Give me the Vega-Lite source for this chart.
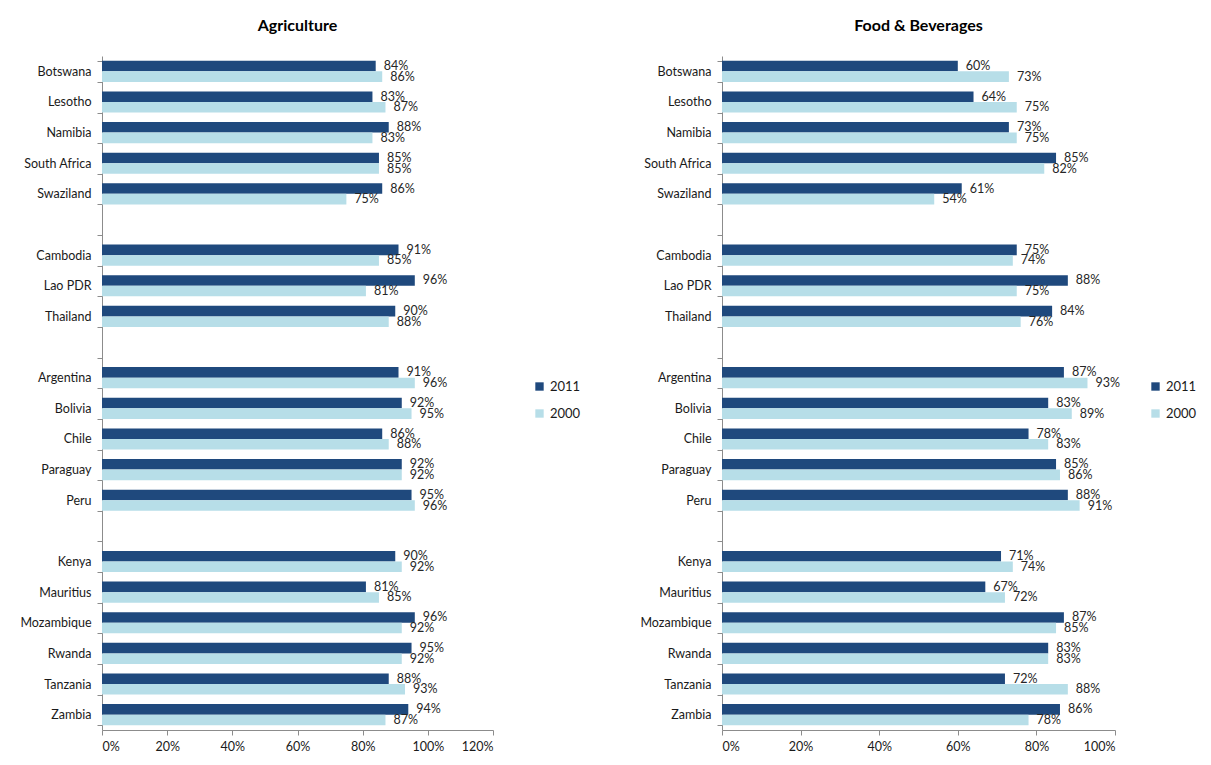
{
  "$schema": "https://vega.github.io/schema/vega-lite/v6.json",
  "background": "white",
  "padding": {"left": 19, "top": 18, "right": 5, "bottom": 5},
  "datasets": {
    "rows": [
      {"panel": "Agriculture", "country": "Botswana", "year": "2011", "value": 0.84},
      {"panel": "Agriculture", "country": "Botswana", "year": "2000", "value": 0.86},
      {"panel": "Agriculture", "country": "Lesotho", "year": "2011", "value": 0.83},
      {"panel": "Agriculture", "country": "Lesotho", "year": "2000", "value": 0.87},
      {"panel": "Agriculture", "country": "Namibia", "year": "2011", "value": 0.88},
      {"panel": "Agriculture", "country": "Namibia", "year": "2000", "value": 0.83},
      {"panel": "Agriculture", "country": "South Africa", "year": "2011", "value": 0.85},
      {"panel": "Agriculture", "country": "South Africa", "year": "2000", "value": 0.85},
      {"panel": "Agriculture", "country": "Swaziland", "year": "2011", "value": 0.86},
      {"panel": "Agriculture", "country": "Swaziland", "year": "2000", "value": 0.75},
      {"panel": "Agriculture", "country": "Cambodia", "year": "2011", "value": 0.91},
      {"panel": "Agriculture", "country": "Cambodia", "year": "2000", "value": 0.85},
      {"panel": "Agriculture", "country": "Lao PDR", "year": "2011", "value": 0.96},
      {"panel": "Agriculture", "country": "Lao PDR", "year": "2000", "value": 0.81},
      {"panel": "Agriculture", "country": "Thailand", "year": "2011", "value": 0.90},
      {"panel": "Agriculture", "country": "Thailand", "year": "2000", "value": 0.88},
      {"panel": "Agriculture", "country": "Argentina", "year": "2011", "value": 0.91},
      {"panel": "Agriculture", "country": "Argentina", "year": "2000", "value": 0.96},
      {"panel": "Agriculture", "country": "Bolivia", "year": "2011", "value": 0.92},
      {"panel": "Agriculture", "country": "Bolivia", "year": "2000", "value": 0.95},
      {"panel": "Agriculture", "country": "Chile", "year": "2011", "value": 0.86},
      {"panel": "Agriculture", "country": "Chile", "year": "2000", "value": 0.88},
      {"panel": "Agriculture", "country": "Paraguay", "year": "2011", "value": 0.92},
      {"panel": "Agriculture", "country": "Paraguay", "year": "2000", "value": 0.92},
      {"panel": "Agriculture", "country": "Peru", "year": "2011", "value": 0.95},
      {"panel": "Agriculture", "country": "Peru", "year": "2000", "value": 0.96},
      {"panel": "Agriculture", "country": "Kenya", "year": "2011", "value": 0.90},
      {"panel": "Agriculture", "country": "Kenya", "year": "2000", "value": 0.92},
      {"panel": "Agriculture", "country": "Mauritius", "year": "2011", "value": 0.81},
      {"panel": "Agriculture", "country": "Mauritius", "year": "2000", "value": 0.85},
      {"panel": "Agriculture", "country": "Mozambique", "year": "2011", "value": 0.96},
      {"panel": "Agriculture", "country": "Mozambique", "year": "2000", "value": 0.92},
      {"panel": "Agriculture", "country": "Rwanda", "year": "2011", "value": 0.95},
      {"panel": "Agriculture", "country": "Rwanda", "year": "2000", "value": 0.92},
      {"panel": "Agriculture", "country": "Tanzania", "year": "2011", "value": 0.88},
      {"panel": "Agriculture", "country": "Tanzania", "year": "2000", "value": 0.93},
      {"panel": "Agriculture", "country": "Zambia", "year": "2011", "value": 0.94},
      {"panel": "Agriculture", "country": "Zambia", "year": "2000", "value": 0.87},
      {"panel": "Food", "country": "Botswana", "year": "2011", "value": 0.60},
      {"panel": "Food", "country": "Botswana", "year": "2000", "value": 0.73},
      {"panel": "Food", "country": "Lesotho", "year": "2011", "value": 0.64},
      {"panel": "Food", "country": "Lesotho", "year": "2000", "value": 0.75},
      {"panel": "Food", "country": "Namibia", "year": "2011", "value": 0.73},
      {"panel": "Food", "country": "Namibia", "year": "2000", "value": 0.75},
      {"panel": "Food", "country": "South Africa", "year": "2011", "value": 0.85},
      {"panel": "Food", "country": "South Africa", "year": "2000", "value": 0.82},
      {"panel": "Food", "country": "Swaziland", "year": "2011", "value": 0.61},
      {"panel": "Food", "country": "Swaziland", "year": "2000", "value": 0.54},
      {"panel": "Food", "country": "Cambodia", "year": "2011", "value": 0.75},
      {"panel": "Food", "country": "Cambodia", "year": "2000", "value": 0.74},
      {"panel": "Food", "country": "Lao PDR", "year": "2011", "value": 0.88},
      {"panel": "Food", "country": "Lao PDR", "year": "2000", "value": 0.75},
      {"panel": "Food", "country": "Thailand", "year": "2011", "value": 0.84},
      {"panel": "Food", "country": "Thailand", "year": "2000", "value": 0.76},
      {"panel": "Food", "country": "Argentina", "year": "2011", "value": 0.87},
      {"panel": "Food", "country": "Argentina", "year": "2000", "value": 0.93},
      {"panel": "Food", "country": "Bolivia", "year": "2011", "value": 0.83},
      {"panel": "Food", "country": "Bolivia", "year": "2000", "value": 0.89},
      {"panel": "Food", "country": "Chile", "year": "2011", "value": 0.78},
      {"panel": "Food", "country": "Chile", "year": "2000", "value": 0.83},
      {"panel": "Food", "country": "Paraguay", "year": "2011", "value": 0.85},
      {"panel": "Food", "country": "Paraguay", "year": "2000", "value": 0.86},
      {"panel": "Food", "country": "Peru", "year": "2011", "value": 0.88},
      {"panel": "Food", "country": "Peru", "year": "2000", "value": 0.91},
      {"panel": "Food", "country": "Kenya", "year": "2011", "value": 0.71},
      {"panel": "Food", "country": "Kenya", "year": "2000", "value": 0.74},
      {"panel": "Food", "country": "Mauritius", "year": "2011", "value": 0.67},
      {"panel": "Food", "country": "Mauritius", "year": "2000", "value": 0.72},
      {"panel": "Food", "country": "Mozambique", "year": "2011", "value": 0.87},
      {"panel": "Food", "country": "Mozambique", "year": "2000", "value": 0.85},
      {"panel": "Food", "country": "Rwanda", "year": "2011", "value": 0.83},
      {"panel": "Food", "country": "Rwanda", "year": "2000", "value": 0.83},
      {"panel": "Food", "country": "Tanzania", "year": "2011", "value": 0.72},
      {"panel": "Food", "country": "Tanzania", "year": "2000", "value": 0.88},
      {"panel": "Food", "country": "Zambia", "year": "2011", "value": 0.86},
      {"panel": "Food", "country": "Zambia", "year": "2000", "value": 0.78}
    ]
  },
  "hconcat": [
    {
      "title": "Agriculture",
      "width": 391,
      "height": 674,
      "data": {"name": "rows"},
      "transform": [{"filter": "datum.panel === 'Agriculture'"}],
      "encoding": {
        "y": {
          "field": "country", "type": "nominal", "title": null,
          "scale": {
            "domain": ["Botswana", "Lesotho", "Namibia", "South Africa", "Swaziland", " ", "Cambodia", "Lao PDR", "Thailand", "  ", "Argentina", "Bolivia", "Chile", "Paraguay", "Peru", "   ", "Kenya", "Mauritius", "Mozambique", "Rwanda", "Tanzania", "Zambia"],
            "paddingInner": 0.31, "paddingOuter": 0.155
          }
        },
        "yOffset": {"field": "year", "type": "nominal", "sort": ["2011", "2000"], "scale": {"paddingInner": 0, "paddingOuter": 0}},
        "x": {
          "field": "value", "type": "quantitative", "title": null,
          "scale": {"domain": [0, 1.2], "nice": false},
          "axis": {"values": [0, 0.2, 0.4, 0.6, 0.8, 1.0, 1.2], "format": ".0%"}
        }
      },
      "layer": [
        {
          "mark": {"type": "bar"},
          "encoding": {
            "color": {
              "field": "year", "type": "nominal",
              "scale": {"domain": ["2011", "2000"], "range": ["#1F497D", "#B7DEE8"]},
              "legend": {"title": null, "orient": "none", "legendX": 431, "legendY": 324}
            }
          }
        },
        {
          "mark": {"type": "text", "align": "left", "baseline": "middle", "dx": 8, "font": "Lato", "fontSize": 12.5, "color": "#262626"},
          "encoding": {"text": {"field": "value", "type": "quantitative", "format": ".0%"}}
        }
      ]
    },
    {
      "title": "Food & Beverages",
      "width": 393,
      "height": 674,
      "data": {"name": "rows"},
      "transform": [{"filter": "datum.panel === 'Food'"}],
      "encoding": {
        "y": {
          "field": "country", "type": "nominal", "title": null,
          "scale": {
            "domain": ["Botswana", "Lesotho", "Namibia", "South Africa", "Swaziland", " ", "Cambodia", "Lao PDR", "Thailand", "  ", "Argentina", "Bolivia", "Chile", "Paraguay", "Peru", "   ", "Kenya", "Mauritius", "Mozambique", "Rwanda", "Tanzania", "Zambia"],
            "paddingInner": 0.31, "paddingOuter": 0.155
          }
        },
        "yOffset": {"field": "year", "type": "nominal", "sort": ["2011", "2000"], "scale": {"paddingInner": 0, "paddingOuter": 0}},
        "x": {
          "field": "value", "type": "quantitative", "title": null,
          "scale": {"domain": [0, 1.0], "nice": false},
          "axis": {"values": [0, 0.2, 0.4, 0.6, 0.8, 1.0], "format": ".0%"}
        }
      },
      "layer": [
        {
          "mark": {"type": "bar"},
          "encoding": {
            "color": {
              "field": "year", "type": "nominal",
              "scale": {"domain": ["2011", "2000"], "range": ["#1F497D", "#B7DEE8"]},
              "legend": {"title": null, "orient": "none", "legendX": 427, "legendY": 324}
            }
          }
        },
        {
          "mark": {"type": "text", "align": "left", "baseline": "middle", "dx": 8, "font": "Lato", "fontSize": 12.5, "color": "#262626"},
          "encoding": {"text": {"field": "value", "type": "quantitative", "format": ".0%"}}
        }
      ]
    }
  ],
  "resolve": {"legend": {"color": "independent"}, "scale": {"color": "independent"}},
  "spacing": 58,
  "config": {
    "font": "Lato",
    "view": {"stroke": null},
    "title": {"font": "Lato", "fontSize": 16, "fontWeight": "bold", "color": "#000000", "offset": 16, "anchor": "middle"},
    "axis": {
      "labelFont": "Lato", "labelFontSize": 12.5, "labelColor": "#1a1a1a",
      "domainColor": "#8c8c8c", "tickColor": "#8c8c8c", "tickSize": 5, "grid": false
    },
    "axisY": {"tickBand": "extent", "labelPadding": 6},
    "axisX": {"labelPadding": 5},
    "legend": {"labelFont": "Lato", "labelFontSize": 13, "labelColor": "#1a1a1a", "symbolType": "square", "symbolSize": 70, "symbolStrokeWidth": 0, "rowPadding": 13, "labelOffset": 4}
  }
}
